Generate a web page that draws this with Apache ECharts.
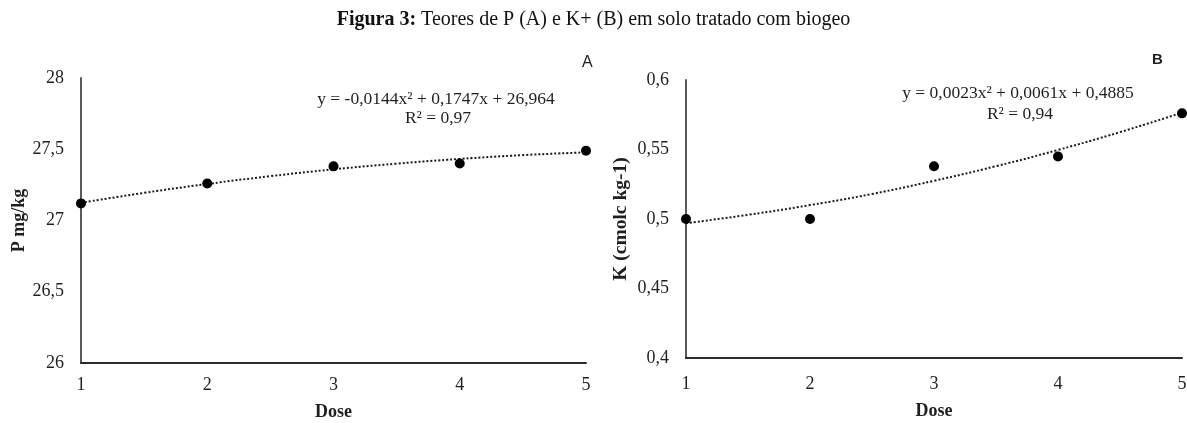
<!DOCTYPE html>
<html><head><meta charset="utf-8">
<script src="https://cdn.jsdelivr.net/npm/echarts@6/dist/echarts.min.js"></script>
<style>html,body{margin:0;padding:0;background:#fff}#c{width:1187px;height:423px}</style>
</head><body><div id="c"></div>
<script>
// Data
const doses = [1, 2, 3, 4, 5];
const pValues = [27.12, 27.26, 27.38, 27.40, 27.49];
const kValues = [0.50, 0.50, 0.538, 0.545, 0.576];
const trendX = [1, 1.5, 2, 2.5, 3, 3.5, 4, 4.5, 5];
const pTrend = [27.124, 27.194, 27.256, 27.311, 27.359, 27.399, 27.432, 27.459, 27.478];
const kTrend = [0.497, 0.503, 0.510, 0.518, 0.5275, 0.538, 0.5497, 0.5625, 0.5765];
const pTicks = { min: 26, max: 28, interval: 0.5 };
const kTicks = { min: 0.4, max: 0.6, interval: 0.05 };

const serif = '"Liberation Serif", "Times New Roman", serif';
const txt = '#1f1f1f';
const pair = (xs, ys) => xs.map((x, i) => [x, ys[i]]);
const fmt = v => String(Math.round(v * 100) / 100).replace('.', ',');

const chart = echarts.init(document.getElementById('c'), null, { renderer: 'canvas' });

function xAxis(gi, gap, margin) {
  return {
    type: 'value', gridIndex: gi, min: 1, max: 5, interval: 1,
    name: 'Dose', nameLocation: 'middle', nameGap: gap,
    nameTextStyle: { fontFamily: serif, fontWeight: 'bold', fontSize: 18, color: txt },
    axisLine: { show: true, lineStyle: { color: '#2a2a2a', width: 2 } },
    axisTick: { show: false }, splitLine: { show: false },
    axisLabel: { fontFamily: serif, fontSize: 18, color: txt, margin: margin }
  };
}
function yAxis(gi, t, name, gap, fs) {
  return {
    type: 'value', gridIndex: gi, min: t.min, max: t.max, interval: t.interval,
    name: name, nameLocation: 'middle', nameGap: gap, nameRotate: 90,
    nameTextStyle: { fontFamily: serif, fontWeight: 'bold', fontSize: fs, color: txt },
    axisLine: { show: true, lineStyle: { color: '#5a5a5a', width: 2 } },
    axisTick: { show: false }, splitLine: { show: false },
    axisLabel: { fontFamily: serif, fontSize: 18, color: txt, margin: 17, formatter: fmt }
  };
}
const dotted = { color: '#1a1a1a', width: 2, type: [2, 2] };
const dot = { color: '#000', opacity: 1 };

chart.setOption({
  animation: false,
  title: {
    text: '{b|Figura 3:} Teores de P (A) e K+ (B) em solo tratado com biogeo',
    left: 'center', top: 5,
    textStyle: {
      fontFamily: serif, fontSize: 20, fontWeight: 'normal', color: '#111',
      rich: { b: { fontFamily: serif, fontSize: 20, fontWeight: 'bold', color: '#111' } }
    }
  },
  grid: [
    { left: 81, top: 78, width: 505, height: 285, outerBoundsMode: 'none', containLabel: false },
    { left: 686, top: 80, width: 496, height: 278, outerBoundsMode: 'none', containLabel: false }
  ],
  xAxis: [xAxis(0, 40, 13), xAxis(1, 44, 17)],
  yAxis: [yAxis(0, pTicks, 'P mg/kg', 53, 18), yAxis(1, kTicks, 'K (cmolc kg-1)', 55, 19.5)],
  series: [
    { type: 'line', xAxisIndex: 0, yAxisIndex: 0, data: pair(trendX, pTrend), smooth: true,
      showSymbol: false, lineStyle: dotted, z: 2 },
    { type: 'scatter', xAxisIndex: 0, yAxisIndex: 0, data: pair(doses, pValues),
      symbolSize: 10, itemStyle: dot, z: 3 },
    { type: 'line', xAxisIndex: 1, yAxisIndex: 1, data: pair(trendX, kTrend), smooth: true,
      showSymbol: false, lineStyle: dotted, z: 2 },
    { type: 'scatter', xAxisIndex: 1, yAxisIndex: 1, data: pair(doses, kValues),
      symbolSize: 10, itemStyle: dot, z: 3 }
  ],
  graphic: [
    { type: 'text', left: 582, top: 55, style: { text: 'A', font: '16px "Liberation Sans", Arial, sans-serif', fill: '#222' } },
    { type: 'text', left: 1152, top: 52, style: { text: 'B', font: 'bold 15px "Liberation Sans", Arial, sans-serif', fill: '#222' } },
    { type: 'text', x: 436, y: 99, style: { text: 'y = -0,0144x² + 0,1747x + 26,964', font: '17.5px ' + serif, fill: txt, align: 'center', verticalAlign: 'middle' } },
    { type: 'text', x: 438, y: 118, style: { text: 'R² = 0,97', font: '17.5px ' + serif, fill: txt, align: 'center', verticalAlign: 'middle' } },
    { type: 'text', x: 1018, y: 93, style: { text: 'y = 0,0023x² + 0,0061x + 0,4885', font: '17.5px ' + serif, fill: txt, align: 'center', verticalAlign: 'middle' } },
    { type: 'text', x: 1020, y: 114, style: { text: 'R² = 0,94', font: '17.5px ' + serif, fill: txt, align: 'center', verticalAlign: 'middle' } }
  ]
});
</script></body></html>
